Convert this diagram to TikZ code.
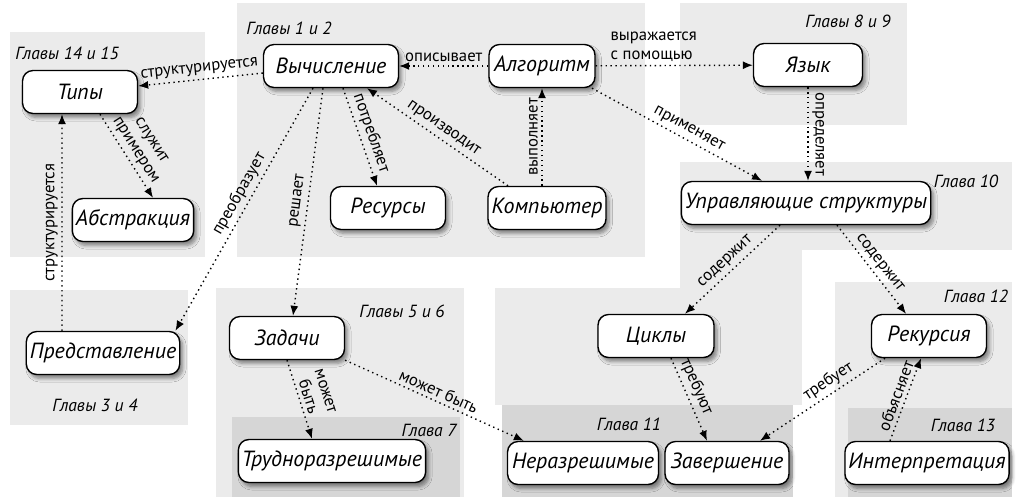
\documentclass[tikz,border=0pt]{standalone}
\usepackage{fontspec}
\setmainfont{PT Sans}
\usetikzlibrary{arrows.meta,shadows.blur}

\begin{document}
\begin{tikzpicture}[
        x=0.02cm, y=-0.02cm,
        every path/.style={thick},
        box/.style={draw, fill=white, rounded corners=6pt, minimum height=0.86cm, inner sep=2pt,
            font=\fontsize{12.5}{14}\selectfont\itshape,
            blur shadow={shadow xshift=0.6mm, shadow yshift=-0.8mm, shadow blur steps=6, shadow opacity=45}},
        rel/.style={dotted, -{Latex[length=2mm, width=1.6mm]}},
        txt/.style={font=\fontsize{9.5}{10.5}\selectfont, inner sep=2pt},
        lbl/.style={txt, sloped, above},
        chap/.style={font=\fontsize{10}{12}\selectfont\itshape},
        zone/.style={fill=black!8},
        zonedark/.style={fill=black!16}
    ]
        \useasboundingbox (0,0) rectangle (1016,497);

        \fill [zone] (10,32) rectangle (205,257);
        \fill [zone] (237,3) rectangle (645,257);
        \fill [zone] (680,3) rectangle (907,125);
        \fill [zone] (680,162) rectangle (1012,250);
        \fill [zone] (680,250) rectangle (802,288);
        \fill [zone] (10,290) rectangle (188,425);
        \fill [zone] (216,288) rectangle (464,497);
        \fill [zonedark] (232,417) rectangle (460,497);
        \fill [zone] (495,288) rectangle (802,405);
        \fill [zonedark] (502,405) rectangle (793,497);
        \fill [zone] (835,282) rectangle (1012,497);
        \fill [zonedark] (848,408) rectangle (1012,497);

        \node[chap] (ch1415) at (67,53) {Главы 14 и 15};
        \node[chap] (ch12) at (289,28) {Главы 1 и 2};
        \node[chap] (ch89) at (848,21) {Главы 8 и 9};
        \node[chap] (ch10) at (966,181) {Глава 10};
        \node[chap] (ch34) at (95,405) {Главы 3 и 4};
        \node[chap] (ch56) at (402,311) {Главы 5 и 6};
        \node[chap] (ch7) at (429,430) {Глава 7};
        \node[chap] (ch11) at (629,424) {Глава 11};
        \node[chap] (ch12b) at (976,296) {Глава 12};
        \node[chap] (ch13) at (963,425) {Глава 13};

        \node[box, minimum width=2.3cm] (typ) at (80,92) {Типы};
        \node[box, minimum width=2.7cm] (vych) at (331,66) {Вычисление};
        \node[box, minimum width=2.12cm] (alg) at (542,66) {Алгоритм};
        \node[box, minimum width=2.18cm] (yaz) at (808,65) {Язык};
        \node[box, minimum width=2.28cm] (abs) at (133,220) {Абстракция};
        \node[box, minimum width=2.3cm] (res) at (388,208) {Ресурсы};
        \node[box, minimum width=2.3cm] (komp) at (547,208) {Компьютер};
        \node[box, minimum width=4.64cm] (upr) at (806,203) {Управляющие структуры};
        \node[box, minimum width=3.02cm] (pred) at (103,353) {Представление};
        \node[box, minimum width=2.3cm] (zad) at (287,338) {Задачи};
        \node[box, minimum width=3.72cm] (trud) at (332,461) {Трудноразрешимые};
        \node[box, minimum width=2.32cm] (cyc) at (656,336) {Циклы};
        \node[box, minimum width=2.3cm] (rec) at (929,336) {Рекурсия};
        \node[box, minimum width=3.02cm] (ner) at (583,463) {Неразрешимые};
        \node[box, minimum width=2.48cm] (zav) at (727,463) {Завершение};
        \node[box, minimum width=2.96cm] (int) at (927,463) {Интерпретация};

        \draw [rel] (vych) -- node[lbl]{структурируется} (typ);
        \draw [rel] (alg) -- node[lbl]{описывает} (vych);
        \draw [rel] (alg) -- node[lbl, pos=0.37, align=left]{выражается\\с помощью} (yaz);
        \draw [rel] ([xshift=4mm]typ.south) -- node[lbl, align=center]{служит\\примером} ([xshift=4mm]abs.north);
        \draw [rel] ([xshift=-8.2mm]pred.north) -- node[txt, rotate=90, anchor=south]{структурируется} ([xshift=-3.6mm]typ.south);
        \draw [rel] ([xshift=-3.6mm]vych.south) -- node[lbl, pos=0.46]{преобразует} ([xshift=-1mm]pred.north east);
        \draw [rel] ([xshift=-1.6mm]vych.south) -- node[lbl]{решает} ([xshift=1.2mm]zad.north);
        \draw [rel] ([xshift=2.4mm]vych.south) -- node[lbl]{потребляет} ([xshift=-2.2mm]res.north);
        \draw [rel] ([xshift=-7.8mm]komp.north) -- node[lbl]{производит} ([xshift=7.2mm]vych.south);
        \draw [rel] (komp.north -| alg.south) -- node[txt, rotate=90, anchor=south]{выполняет} (alg.south);
        \draw [rel] ([xshift=1cm]alg.south) -- node[lbl, pos=0.54]{применяет} ([xshift=-8.8mm]upr.north);
        \draw [rel] (yaz.south) -- node[txt, rotate=-90, anchor=south]{определяет} (yaz.south |- upr.north);
        \draw [rel] ([xshift=-5.2mm]upr.south) -- node[lbl]{содержит} ([xshift=5.8mm]cyc.north);
        \draw [rel] ([xshift=6.2mm]upr.south) -- node[lbl]{содержит} ([xshift=-4.6mm]rec.north);
        \draw [rel] (zad.south) -- node[lbl, align=center]{может\\быть} ([xshift=-4mm]trud.north);
        \draw [rel] (zad.south east) -- node[lbl]{может быть} ([xshift=3.4mm]ner.north west);
        \draw [rel] ([xshift=3mm]cyc.south) -- node[lbl, pos=0.4]{требуют} ([xshift=-4mm]zav.north);
        \draw [rel] ([xshift=-8.8mm]rec.south) -- node[lbl, pos=0.4]{требует} ([xshift=6.6mm]zav.north);
        \draw [rel] ([xshift=-7.4mm]int.north) -- node[lbl]{объясняет} ([xshift=-1.6mm]rec.south);
    \end{tikzpicture}
\end{document}
